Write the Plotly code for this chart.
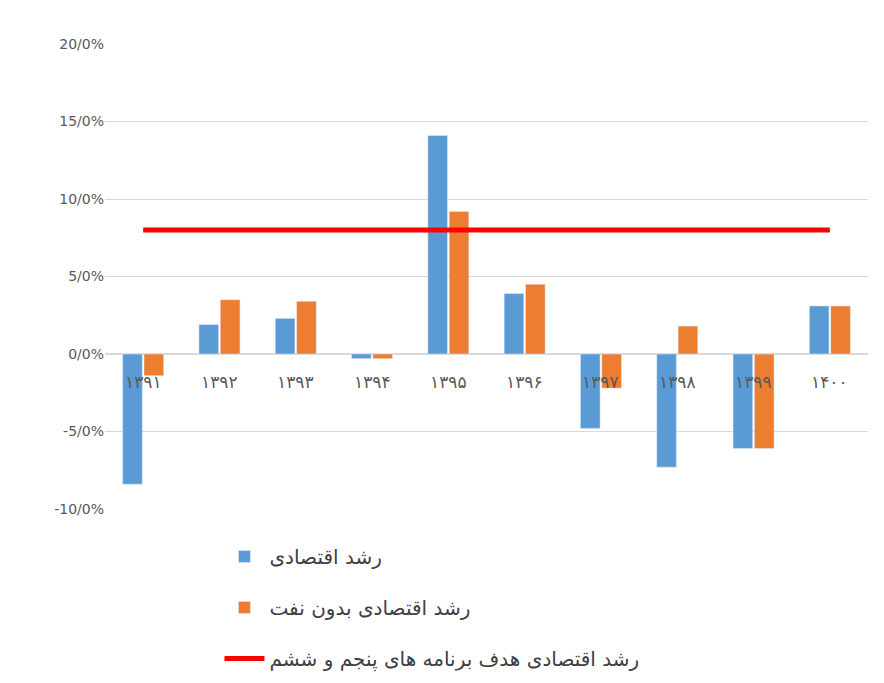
import plotly.graph_objects as go

years = ["۱۳۹۱", "۱۳۹۲", "۱۳۹۳", "۱۳۹۴", "۱۳۹۵", "۱۳۹۶", "۱۳۹۷", "۱۳۹۸", "۱۳۹۹", "۱۴۰۰"]
growth = [-8.4, 1.9, 2.3, -0.3, 14.1, 3.9, -4.8, -7.3, -6.1, 3.1]
growth_no_oil = [-1.4, 3.5, 3.4, -0.3, 9.2, 4.5, -2.2, 1.8, -6.1, 3.1]
target = [8] * len(years)
ytick_vals = [-10, -5, 0, 5, 10, 15, 20]
ytick_text = ["-10/0%", "-5/0%", "0/0%", "5/0%", "10/0%", "15/0%", "20/0%"]

font = "DejaVu Sans, Noto Sans"

fig = go.Figure()
fig.add_bar(x=years, y=growth, name="رشد اقتصادی", marker_color="#5b9bd5", legendgroup="a")
fig.add_bar(x=years, y=growth_no_oil, name="رشد اقتصادی بدون نفت", marker_color="#ed7d31", legendgroup="b")
fig.add_scatter(x=years, y=target, mode="lines", name="رشد اقتصادی هدف برنامه های پنجم و ششم",
                line=dict(color="#ff0000", width=5), legendgroup="c")

for yr in years:
    fig.add_annotation(x=yr, y=0, yref="y", text=yr, showarrow=False, yshift=-28,
                       font=dict(size=17, color="#595959", family=font))

fig.update_layout(
    width=884, height=683,
    margin=dict(l=97, r=24, t=36, b=182),
    plot_bgcolor="white", paper_bgcolor="white",
    barmode="group", bargap=0.44, bargroupgap=0.08,
    showlegend=True,
    legend=dict(x=0.15, y=-0.06, xanchor="left", yanchor="top", orientation="v",
                font=dict(size=20, family=font, color="#404040"),
                tracegroupgap=22, itemwidth=40),
    font=dict(family=font),
)
fig.update_xaxes(showticklabels=False, showline=False, showgrid=False)
fig.update_yaxes(range=[-10, 20], tickvals=ytick_vals, ticktext=ytick_text,
                 gridcolor="#d9d9d9", zeroline=True, zerolinecolor="#d9d9d9",
                 tickfont=dict(size=14, color="#595959"))

fig.write_html("out.html")
